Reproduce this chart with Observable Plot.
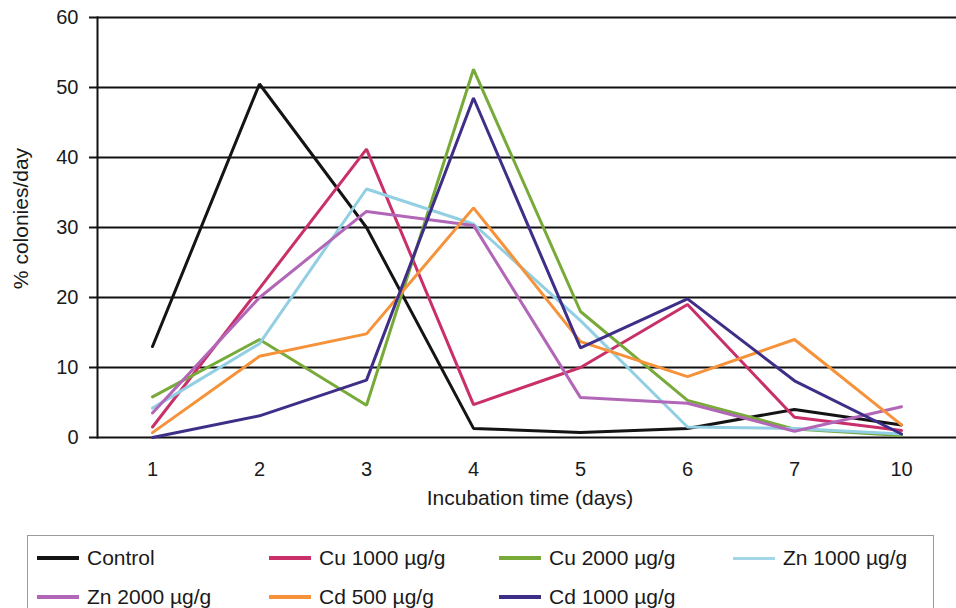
<!DOCTYPE html>
<html>
<head>
<meta charset="utf-8">
<script src="https://cdn.jsdelivr.net/npm/d3@7"></script>
<script src="https://cdn.jsdelivr.net/npm/@observablehq/plot@0.6"></script>
<style>
  html, body { margin: 0; padding: 0; background: #fff; }
  body { width: 956px; height: 608px; overflow: hidden; font-family: "Liberation Sans", Arial, sans-serif; }
  #legend { position: relative; margin-left: 27px; margin-top: 15px; width: 907px; height: 100px;
            border: 1px solid #9a9a9a; box-sizing: border-box; }
  .item { position: absolute; display: flex; align-items: center; font-size: 21px; color: #1a1a1a; white-space: nowrap; }
  .sw { display: inline-block; width: 42px; height: 4px; margin-right: 8px; }
</style>
</head>
<body>
<div id="chart"></div>
<div id="legend"></div>
<script>
const days = ["1", "2", "3", "4", "5", "6", "7", "10"];
const seriesNames = ["Control", "Cu 1000 \u00b5g/g", "Cu 2000 \u00b5g/g", "Zn 1000 \u00b5g/g", "Zn 2000 \u00b5g/g", "Cd 500 \u00b5g/g", "Cd 1000 \u00b5g/g"];
const seriesColors = ["#141414", "#c9306a", "#78aa3a", "#93cfe3", "#b266b8", "#f5923a", "#3f2e88"];
const control = [13, 50.5, 30, 1.3, 0.7, 1.3, 4, 1.8];
const cu1000 = [1.5, 21.3, 41.2, 4.7, 10, 19, 2.9, 1];
const cu2000 = [5.8, 14, 4.6, 52.6, 18, 5.3, 1.2, 0.3];
const zn1000 = [4.2, 13.4, 35.5, 30.5, 16.7, 1.5, 1.3, 0.5];
const zn2000 = [3.5, 20, 32.3, 30.3, 5.7, 4.9, 0.9, 4.4];
const cd500 = [0.7, 11.6, 14.8, 32.8, 13.7, 8.7, 14, 1.8];
const cd1000 = [0, 3.1, 8.2, 48.5, 12.8, 19.8, 8.1, 0.5];
const yTicks = [0, 10, 20, 30, 40, 50, 60];
const xTitle = "Incubation time (days)";
const yTitle = "% colonies/day";

const allSeries = [control, cu1000, cu2000, zn1000, zn2000, cd500, cd1000];
const rows = [];
allSeries.forEach((vals, s) => vals.forEach((v, i) => rows.push({series: seriesNames[s], day: days[i], value: v})));

const chart = Plot.plot({
  width: 956,
  height: 520,
  marginLeft: 97,
  marginRight: 0,
  marginTop: 17,
  marginBottom: 83,
  style: {fontFamily: "'Liberation Sans', Arial, sans-serif", color: "#1a1a1a", background: "#fff"},
  x: {type: "point", domain: days, padding: 0.5},
  y: {domain: [0, 60]},
  color: {domain: seriesNames, range: seriesColors},
  marks: [
    Plot.ruleY(yTicks, {stroke: "#111", strokeWidth: 2}),
    Plot.axisY({ticks: yTicks, tickSize: 8, tickPadding: 11, fontSize: 20, strokeWidth: 2, stroke: "#111", label: null}),
    Plot.axisX({tickSize: 0, tickPadding: 24, fontSize: 20, label: null}),
    Plot.frame({anchor: "left", stroke: "#111", strokeWidth: 2}),
    Plot.line(rows, {x: "day", y: "value", stroke: "series", z: "series", strokeWidth: 3, strokeLinejoin: "miter"}),
    Plot.text([xTitle], {frameAnchor: "bottom", lineAnchor: "middle", textAnchor: "middle", dy: 61, dx: 3, fontSize: 21, fill: "#1a1a1a"}),
    Plot.text([yTitle], {frameAnchor: "left", rotate: -90, lineAnchor: "middle", textAnchor: "middle", dx: -76, dy: -9, fontSize: 21, fill: "#1a1a1a"})
  ]
});
document.getElementById("chart").appendChild(chart);

// legend (HTML, below the svg)
const legend = document.getElementById("legend");
const colLeft = [9, 241, 471, 705];
const rowTop = [22, 61];
seriesNames.forEach((name, i) => {
  const r = Math.floor(i / 4), c = i % 4;
  const item = document.createElement("div");
  item.className = "item";
  item.style.left = colLeft[c] + "px";
  item.style.top = (rowTop[r] - 13) + "px";
  item.style.height = "26px";
  const sw = document.createElement("span");
  sw.className = "sw";
  sw.style.background = seriesColors[i];
  if (i === 3) { sw.style.height = "3px"; sw.style.opacity = "0.85"; }
  const tx = document.createElement("span");
  tx.textContent = name;
  item.appendChild(sw);
  item.appendChild(tx);
  legend.appendChild(item);
});
</script>
</body>
</html>
